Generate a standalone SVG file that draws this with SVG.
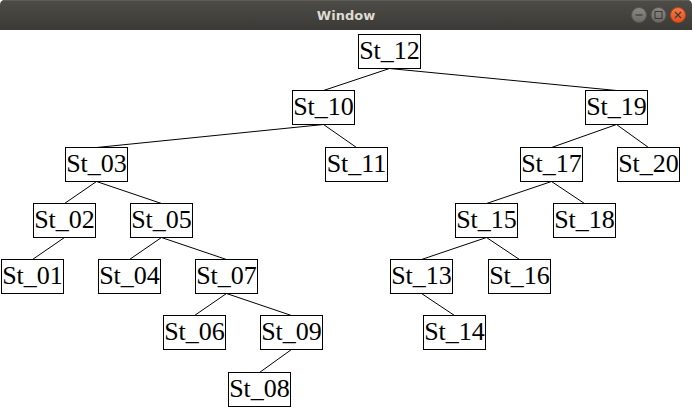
<svg xmlns="http://www.w3.org/2000/svg" width="692" height="415" viewBox="0 0 692 415">
<defs>
<linearGradient id="tb" x1="0" y1="0" x2="0" y2="1">
<stop offset="0" stop-color="#4d4c47"/>
<stop offset="1" stop-color="#3b3a36"/>
</linearGradient>
<linearGradient id="gb" x1="0" y1="0" x2="0" y2="1">
<stop offset="0" stop-color="#8a8984"/>
<stop offset="1" stop-color="#6c6b67"/>
</linearGradient>
<linearGradient id="cb" x1="0" y1="0" x2="0" y2="1">
<stop offset="0" stop-color="#f47a4a"/>
<stop offset="1" stop-color="#e5501c"/>
</linearGradient>
</defs>
<style>
.box{fill:#fff;stroke:#000;stroke-width:1}
.lbl{font-family:"Liberation Serif","Times New Roman",serif;font-size:26px;fill:#000;text-anchor:middle}
.edge{stroke:#000;stroke-width:1;fill:none}
.title{font-family:"DejaVu Sans","Noto Sans",sans-serif;font-weight:bold;font-size:13px;fill:#dfdbd2;text-anchor:middle}
</style>
<rect x="0" y="0" width="692" height="415" fill="#fff"/>
<g id="titlebar">
<path d="M0,30 L0,5 Q0,0 5,0 L687,0 Q692,0 692,5 L692,30 Z" fill="url(#tb)"/>
<line x1="3" y1="0.5" x2="689" y2="0.5" stroke="#5e5d58"/>
<text class="title" x="346" y="20">Window</text>
<circle cx="639" cy="15" r="7.5" fill="url(#gb)" stroke="#565551"/>
<line x1="635.5" y1="15" x2="642.5" y2="15" stroke="#3c3b37" stroke-width="1.2"/>
<circle cx="658.5" cy="15" r="7.5" fill="url(#gb)" stroke="#565551"/>
<rect x="655" y="11.5" width="7" height="7" fill="none" stroke="#3c3b37" stroke-width="1.1"/>
<circle cx="678" cy="15" r="7.5" fill="url(#cb)" stroke="#b8441b"/>
<path d="M675,12 L681,18 M681,12 L675,18" stroke="#3c3b37" stroke-width="1.2"/>
</g>
<g id="connectors">
<line class="edge" x1="389.5" y1="68.5" x2="323.5" y2="90.5"/>
<line class="edge" x1="389.5" y1="68.5" x2="616.5" y2="90.5"/>
<line class="edge" x1="323.5" y1="124.5" x2="96.5" y2="147.5"/>
<line class="edge" x1="323.5" y1="124.5" x2="356.5" y2="147.5"/>
<line class="edge" x1="96.5" y1="181.5" x2="64.5" y2="203.5"/>
<line class="edge" x1="96.5" y1="181.5" x2="161.5" y2="203.5"/>
<line class="edge" x1="64.5" y1="237.5" x2="32.5" y2="259.5"/>
<line class="edge" x1="161.5" y1="237.5" x2="129.5" y2="259.5"/>
<line class="edge" x1="161.5" y1="237.5" x2="226.5" y2="259.5"/>
<line class="edge" x1="226.5" y1="293.5" x2="194.5" y2="315.5"/>
<line class="edge" x1="226.5" y1="293.5" x2="291.5" y2="315.5"/>
<line class="edge" x1="291.5" y1="349.5" x2="259.5" y2="372.5"/>
<line class="edge" x1="616.5" y1="124.5" x2="551.5" y2="147.5"/>
<line class="edge" x1="616.5" y1="124.5" x2="648.5" y2="147.5"/>
<line class="edge" x1="551.5" y1="181.5" x2="486.5" y2="203.5"/>
<line class="edge" x1="551.5" y1="181.5" x2="584.5" y2="203.5"/>
<line class="edge" x1="486.5" y1="237.5" x2="421.5" y2="259.5"/>
<line class="edge" x1="486.5" y1="237.5" x2="519.5" y2="259.5"/>
<line class="edge" x1="421.5" y1="293.5" x2="454.5" y2="315.5"/>
</g>
<g id="St_12"><rect class="box" x="358.5" y="34.5" width="62" height="34"/><text class="lbl" x="389.5" y="59">St_12</text></g>
<g id="St_10"><rect class="box" x="292.5" y="90.5" width="62" height="34"/><text class="lbl" x="323.5" y="115">St_10</text></g>
<g id="St_19"><rect class="box" x="585.5" y="90.5" width="62" height="34"/><text class="lbl" x="616.5" y="115">St_19</text></g>
<g id="St_03"><rect class="box" x="65.5" y="147.5" width="62" height="34"/><text class="lbl" x="96.5" y="172">St_03</text></g>
<g id="St_11"><rect class="box" x="325.5" y="147.5" width="62" height="34"/><text class="lbl" x="356.5" y="172">St_11</text></g>
<g id="St_17"><rect class="box" x="520.5" y="147.5" width="62" height="34"/><text class="lbl" x="551.5" y="172">St_17</text></g>
<g id="St_20"><rect class="box" x="617.5" y="147.5" width="62" height="34"/><text class="lbl" x="648.5" y="172">St_20</text></g>
<g id="St_02"><rect class="box" x="33.5" y="203.5" width="62" height="34"/><text class="lbl" x="64.5" y="228">St_02</text></g>
<g id="St_05"><rect class="box" x="130.5" y="203.5" width="62" height="34"/><text class="lbl" x="161.5" y="228">St_05</text></g>
<g id="St_15"><rect class="box" x="455.5" y="203.5" width="62" height="34"/><text class="lbl" x="486.5" y="228">St_15</text></g>
<g id="St_18"><rect class="box" x="553.5" y="203.5" width="62" height="34"/><text class="lbl" x="584.5" y="228">St_18</text></g>
<g id="St_01"><rect class="box" x="1.5" y="259.5" width="62" height="34"/><text class="lbl" x="32.5" y="284">St_01</text></g>
<g id="St_04"><rect class="box" x="98.5" y="259.5" width="62" height="34"/><text class="lbl" x="129.5" y="284">St_04</text></g>
<g id="St_07"><rect class="box" x="195.5" y="259.5" width="62" height="34"/><text class="lbl" x="226.5" y="284">St_07</text></g>
<g id="St_13"><rect class="box" x="390.5" y="259.5" width="62" height="34"/><text class="lbl" x="421.5" y="284">St_13</text></g>
<g id="St_16"><rect class="box" x="488.5" y="259.5" width="62" height="34"/><text class="lbl" x="519.5" y="284">St_16</text></g>
<g id="St_06"><rect class="box" x="163.5" y="315.5" width="62" height="34"/><text class="lbl" x="194.5" y="340">St_06</text></g>
<g id="St_09"><rect class="box" x="260.5" y="315.5" width="62" height="34"/><text class="lbl" x="291.5" y="340">St_09</text></g>
<g id="St_14"><rect class="box" x="423.5" y="315.5" width="62" height="34"/><text class="lbl" x="454.5" y="340">St_14</text></g>
<g id="St_08"><rect class="box" x="228.5" y="372.5" width="62" height="34"/><text class="lbl" x="259.5" y="397">St_08</text></g>
</svg>
